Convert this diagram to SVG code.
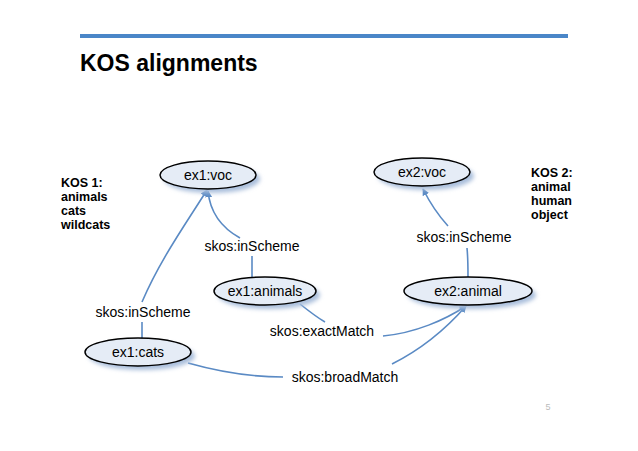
<svg xmlns="http://www.w3.org/2000/svg" width="638" height="451" viewBox="0 0 638 451">
<defs>
<marker id="ah" viewBox="0 0 10 10" refX="9" refY="5" markerWidth="7" markerHeight="7" orient="auto" markerUnits="userSpaceOnUse"><path d="M0,0 L10,5 L0,10 z" fill="#5a8ac4"/></marker>
<filter id="sh" x="-20%" y="-30%" width="150%" height="180%"><feGaussianBlur stdDeviation="2"/></filter>
</defs>
<style>
.n{fill:#e5ecf6;stroke:#000;stroke-width:1.5}
.s{fill:#a9bedb;filter:url(#sh)}
.t{font-family:"Liberation Sans",Arial,sans-serif;font-size:14px;text-anchor:middle;fill:#000}
.c{fill:none;stroke:#5a8ac4;stroke-width:1.6}
.k{font-family:"Liberation Sans",Arial,sans-serif;font-size:12.5px;font-weight:bold;fill:#000}
</style>
<rect width="638" height="451" fill="#fff"/>
<rect x="80" y="34" width="488" height="4" fill="#4a86c8"/>
<text x="80" y="71" font-family="Liberation Sans,Arial,sans-serif" font-size="23" font-weight="bold">KOS alignments</text>
<text class="k" x="61" y="187">KOS 1:</text>
<text class="k" x="61" y="201">animals</text>
<text class="k" x="61" y="215">cats</text>
<text class="k" x="61" y="229">wildcats</text>
<text class="k" x="531" y="177">KOS 2:</text>
<text class="k" x="531" y="191">animal</text>
<text class="k" x="531" y="205">human</text>
<text class="k" x="531" y="219">object</text>
<g id="connectors">
<path class="c" d="M142,302 C160,260 185,225 207,190" marker-end="url(#ah)"/>
<path class="c" d="M240,238 C222,228 210,212 208,191" marker-end="url(#ah)"/>
<path class="c" d="M252,256 L252,277"/>
<path class="c" d="M142,322 L142,338"/>
<path class="c" d="M468,277 C468,265 468,258 467,248"/>
<path class="c" d="M448,226 C438,215 430,203 423,189" marker-end="url(#ah)"/>
<path class="c" d="M300,304 C310,312 318,318 325,322"/>
<path class="c" d="M383,336 C415,333 445,320 466,306" marker-end="url(#ah)"/>
<path class="c" d="M188,363 C220,372 250,377 283,377"/>
<path class="c" d="M392,364 C420,350 445,330 466,306" marker-end="url(#ah)"/>
</g>
<text class="t" x="252" y="251">skos:inScheme</text>
<text class="t" x="143" y="317">skos:inScheme</text>
<text class="t" x="464" y="242">skos:inScheme</text>
<text class="t" x="322" y="336">skos:exactMatch</text>
<text class="t" x="345" y="382">skos:broadMatch</text>
<g id="ex1voc"><ellipse class="s" cx="212" cy="179" rx="48" ry="14"/><ellipse class="n" cx="208" cy="175" rx="48" ry="14"/><text class="t" x="208" y="180">ex1:voc</text></g>
<g id="ex2voc"><ellipse class="s" cx="426" cy="176" rx="48" ry="14"/><ellipse class="n" cx="422" cy="172" rx="48" ry="14"/><text class="t" x="422" y="177">ex2:voc</text></g>
<g id="ex1animals"><ellipse class="s" cx="269" cy="295" rx="51" ry="14"/><ellipse class="n" cx="265" cy="291" rx="51" ry="14"/><text class="t" x="265" y="296">ex1:animals</text></g>
<g id="ex2animal"><ellipse class="s" cx="472" cy="295" rx="64" ry="14"/><ellipse class="n" cx="468" cy="291" rx="64" ry="14"/><text class="t" x="468" y="296">ex2:animal</text></g>
<g id="ex1cats"><ellipse class="s" cx="142" cy="356" rx="53" ry="14"/><ellipse class="n" cx="138" cy="352" rx="53" ry="14"/><text class="t" x="138" y="357">ex1:cats</text></g>
<text x="548" y="410" font-family="Liberation Sans,Arial,sans-serif" font-size="9" fill="#bbb" text-anchor="middle">5</text>
</svg>
